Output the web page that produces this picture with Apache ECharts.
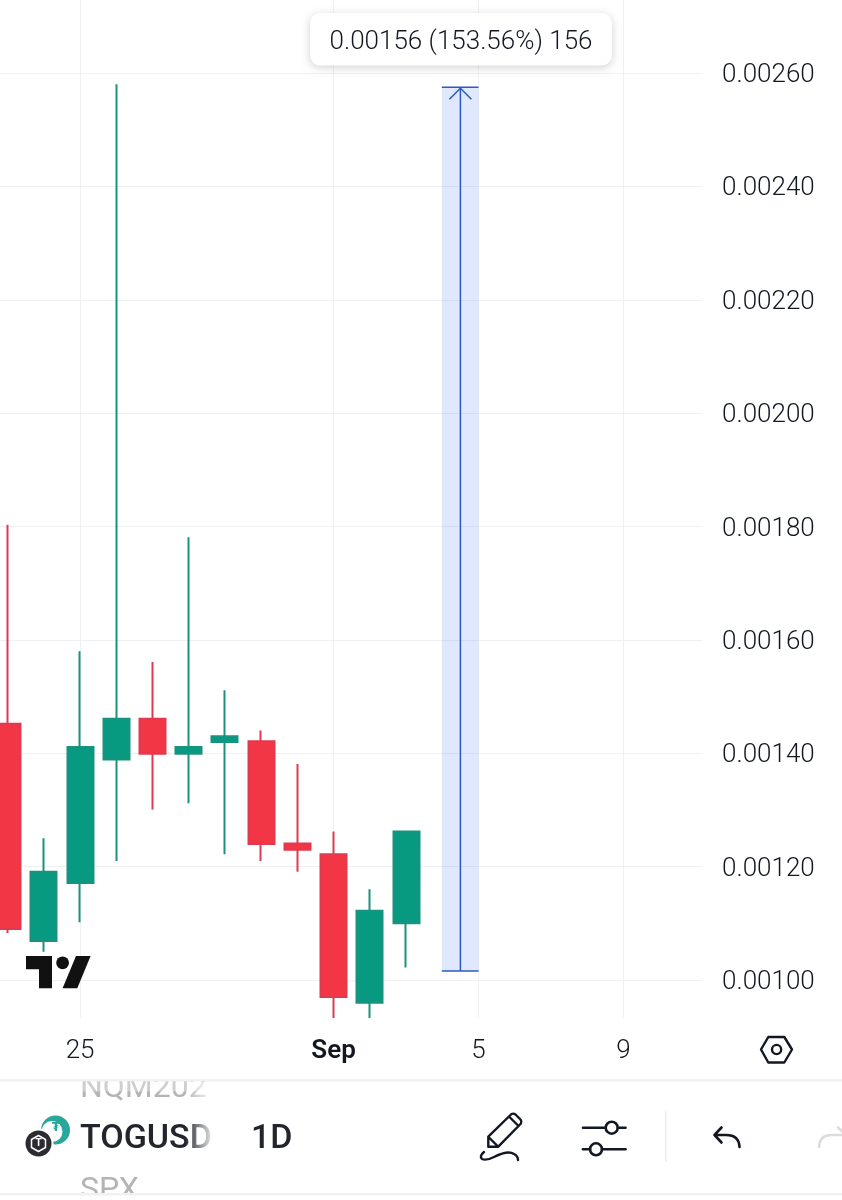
<!DOCTYPE html>
<html>
<head>
<meta charset="utf-8">
<title>TOGUSD 1D</title>
<style>
  html, body { margin: 0; padding: 0; background: #fff; }
  #chart { width: 842px; height: 1200px; }
</style>
<script src="https://cdn.jsdelivr.net/npm/echarts@6/dist/echarts.min.js"></script>
</head>
<body>
<div id="chart"></div>
<script>
// days counted on from August, so 32 is Sep 1
var days   = [23, 24, 25, 26, 27, 28, 29, 30, 31, 32, 33, 34];
var opens  = [0.001452, 0.001069, 0.001171, 0.001389, 0.001461, 0.001399, 0.00142, 0.001421, 0.001241, 0.001222, 0.00096, 0.0011];
var closes = [0.00109, 0.001191, 0.001411, 0.001461, 0.001399, 0.001411, 0.00143, 0.00124, 0.00123, 0.00097, 0.001122, 0.001262];
var lows   = [0.001083, 0.00105, 0.001102, 0.00121, 0.001301, 0.001312, 0.001222, 0.00121, 0.001191, 0.000933, 0.000933, 0.001022];
var highs  = [0.001803, 0.00125, 0.00158, 0.00258, 0.001561, 0.001781, 0.001511, 0.00144, 0.001381, 0.001262, 0.00116, 0.001262];

var priceTicks = [0.001, 0.0012, 0.0014, 0.0016, 0.0018, 0.002, 0.0022, 0.0024, 0.0026];
var dayTicks = [25, 32, 36, 40];
var dayLabels = { 25: "25", 32: "{b|Sep}", 36: "5", 40: "9" };

// price range tool: spans Sep 4 to Sep 5
var rangeDays = [35, 36];
var rangePrices = [0.001016, 0.002575];
var rangeText = "0.00156 (153.56%) 156";

var font = "Roboto";
var ink = "#131722";
var gridColor = "#eff0f3";
var up = "#089981";
var down = "#f23645";
var toolBlue = "#2a5bc0";

var candles = days.map(function (d, i) {
  return [d, opens[i], closes[i], lows[i], highs[i]];
});

function renderRange(params, api) {
  var lt = api.coord([rangeDays[0], rangePrices[1]]);
  var rb = api.coord([rangeDays[1], rangePrices[0]]);
  var cx = (lt[0] + rb[0]) / 2;
  var line = { stroke: toolBlue, lineWidth: 1.5, fill: null };
  return {
    type: "group",
    children: [
      { type: "rect", shape: { x: lt[0] - 0.5, y: lt[1], width: rb[0] - lt[0] + 0.5, height: rb[1] - lt[1] }, style: { fill: "rgba(41,98,255,0.15)" } },
      { type: "line", shape: { x1: lt[0] - 0.5, y1: lt[1], x2: rb[0], y2: lt[1] }, style: line },
      { type: "line", shape: { x1: lt[0] - 0.5, y1: rb[1], x2: rb[0], y2: rb[1] }, style: line },
      { type: "line", shape: { x1: cx, y1: lt[1], x2: cx, y2: rb[1] }, style: line },
      { type: "polyline", shape: { points: [[cx - 11, lt[1] + 12], [cx, lt[1] + 1], [cx + 11, lt[1] + 12]] }, style: line }
    ]
  };
}

function stroke(color, width) {
  return { stroke: color, lineWidth: width, fill: null, lineCap: "round", lineJoin: "round" };
}

// the graphic component has no plain svg path type, so register each icon as a shape
function icon(name, d, color, width) {
  echarts.graphic.registerShape(name, echarts.graphic.extendPath(d));
  return { type: name, z: 10, style: stroke(color, width) };
}

// TradingView mark, toolbar and the symbol strip under the chart
var chrome = [
  { type: "rect", z: 20, shape: { x: 310, y: 13, width: 302, height: 52.5, r: 10 }, style: { fill: "#fff", shadowBlur: 9, shadowOffsetY: 2, shadowColor: "rgba(0,0,0,0.18)" } },
  { type: "text", z: 21, x: 461, y: 42, style: { text: rangeText, font: "300 26px " + font, fill: ink, align: "center", verticalAlign: "middle" } },

  { type: "polygon", z: 10, shape: { points: [[26, 956], [52, 956], [52, 988.3], [39, 988.3], [39, 969.3], [26, 969.3]] }, style: { fill: "#111" } },
  { type: "circle", z: 10, shape: { cx: 62.6, cy: 962.8, r: 6.4 }, style: { fill: "#111" } },
  { type: "polygon", z: 10, shape: { points: [[76, 956], [90.6, 956], [77.3, 988.3], [62.6, 988.3]] }, style: { fill: "#111" } },

  icon("hexIcon", "M761 1049.5 L768.3 1037 H784.3 L792 1049.5 L784.3 1062.5 H768.3 Z", "#131722", 2.4),
  { type: "circle", z: 10, shape: { cx: 776.6, cy: 1049.5, r: 4.6 }, style: stroke("#131722", 2.4) },

  { type: "text", x: 80, y: 1105, style: { text: "NQM202", font: "400 32px " + font, fill: "#b4b4b4", verticalAlign: "bottom" } },
  { type: "text", x: 80, y: 1156, style: { text: "TOGUSD", font: "500 34px " + font, fill: "#22252b", verticalAlign: "bottom" } },
  { type: "text", x: 80, y: 1207, style: { text: "SPX", font: "400 32px " + font, fill: "#b4b4b4", verticalAlign: "bottom" } },
  { type: "text", x: 251, y: 1156, style: { text: "1D", font: "500 34px " + font, fill: "#22252b", verticalAlign: "bottom" } },
  // fades the clipped symbol names
  { type: "rect", z: 6, shape: { x: 185, y: 1082, width: 36, height: 112 }, style: { fill: { type: "linear", x: 0, y: 0, x2: 1, y2: 0, colorStops: [{ offset: 0, color: "rgba(255,255,255,0)" }, { offset: 0.85, color: "#fff" }, { offset: 1, color: "#fff" }] } } },
  { type: "rect", z: 6, shape: { x: 70, y: 1081.5, width: 160, height: 10 }, style: { fill: "rgba(255,255,255,0.35)" } },
  { type: "rect", z: 7, shape: { x: 70, y: 1066, width: 160, height: 15 }, style: { fill: "#fff" } },
  { type: "rect", z: 7, shape: { x: 0, y: 1193, width: 842, height: 7 }, style: { fill: "#fff" } },
  { type: "rect", z: 8, shape: { x: 0, y: 1079, width: 842, height: 2.5 }, style: { fill: "#f1f1f1" } },
  { type: "rect", z: 8, shape: { x: 0, y: 1193, width: 842, height: 2.5 }, style: { fill: "#f1f1f1" } },

  { type: "circle", z: 10, shape: { cx: 55.5, cy: 1130, r: 14.5 }, style: { fill: "#2aa79b" } },
  { type: "circle", z: 11, shape: { cx: 52, cy: 1131.5, r: 10.5 }, style: { fill: "#fff" } },
  { type: "text", z: 12, x: 56, y: 1128, style: { text: "₮", font: "700 12px 'DejaVu Sans'", fill: "#2aa79b", align: "center", verticalAlign: "middle" } },
  { type: "circle", z: 13, shape: { cx: 38.5, cy: 1143.5, r: 15 }, style: { fill: "#fff" } },
  { type: "circle", z: 14, shape: { cx: 38.5, cy: 1143.5, r: 13 }, style: { fill: "#2c2c30" } },
  Object.assign(icon("logoHex", "M38.5 1135.5 L45.5 1139.5 V1147.5 L38.5 1151.5 L31.5 1147.5 V1139.5 Z", "#fff", 1.5), { z: 15 }),
  { type: "text", z: 15, x: 38.5, y: 1143.5, style: { text: "T", font: "700 10px " + font, fill: "#fff", align: "center", verticalAlign: "middle" } },

  // pencil
  icon("pencilBody", "M488.3 1146.7 V1136.7 L511.5 1114 Q513.5 1113 515.5 1114.5 L520.5 1119.5 Q522 1121.5 521 1123.5 L498.3 1146.7 Z M488.5 1137 L498 1146.5 M509 1116.5 L518.5 1126", "#131722", 2.4),
  icon("pencilLine", "M484 1152 Q479 1156 482 1159 Q486 1161 494 1157 Q508 1150 514 1154 Q518 1156 518 1160", "#131722", 2.4),

  // settings sliders
  { type: "line", z: 10, shape: { x1: 583, y1: 1127.7, x2: 605, y2: 1127.7 }, style: stroke("#131722", 2.6) },
  { type: "line", z: 10, shape: { x1: 618, y1: 1127.7, x2: 625.5, y2: 1127.7 }, style: stroke("#131722", 2.6) },
  { type: "circle", z: 10, shape: { cx: 611.7, cy: 1127.7, r: 6 }, style: stroke("#131722", 2.6) },
  { type: "line", z: 10, shape: { x1: 583, y1: 1149.3, x2: 590, y2: 1149.3 }, style: stroke("#131722", 2.6) },
  { type: "line", z: 10, shape: { x1: 602, y1: 1149.3, x2: 625.5, y2: 1149.3 }, style: stroke("#131722", 2.6) },
  { type: "circle", z: 10, shape: { cx: 596, cy: 1149.3, r: 6 }, style: stroke("#131722", 2.6) },

  { type: "rect", z: 10, shape: { x: 665, y: 1111, width: 1.6, height: 51 }, style: { fill: "#ececec" } },

  // undo, redo
  icon("undoIcon", "M721.5 1127.5 L714.5 1135 L721.5 1142.5 M714.5 1135 H726 Q739 1135 739.5 1147", "#131722", 2.6),
  icon("redoIcon", "M819 1147 Q819.5 1135 832 1135 H846 M838 1127.5 L846 1135", "#dcdcdc", 2.6)
];

var chart = echarts.init(document.getElementById("chart"));

var option = {
  animation: false,
  backgroundColor: "#fff",
  grid: { left: 0, right: 140, top: 0, bottom: 182 },
  xAxis: {
    type: "value",
    min: 22.79,
    max: 42.17,
    axisLine: { show: false },
    axisTick: { show: false, customValues: dayTicks },
    splitLine: { show: true, lineStyle: { color: gridColor, width: 1 } },
    axisLabel: {
      customValues: dayTicks,
      margin: 20,
      color: ink,
      fontFamily: font,
      fontWeight: 300,
      fontSize: 26,
      formatter: function (v) { return dayLabels[v]; },
      rich: { b: { fontFamily: font, fontWeight: 600, fontSize: 26, color: ink } }
    }
  },
  yAxis: {
    type: "value",
    position: "right",
    min: 0.000933,
    max: 0.0027288,
    axisLine: { show: false },
    axisTick: { show: false, customValues: priceTicks },
    splitLine: { show: true, lineStyle: { color: gridColor, width: 1 } },
    axisLabel: {
      customValues: priceTicks,
      margin: 20,
      color: ink,
      fontFamily: font,
      fontWeight: 300,
      fontSize: 26,
      formatter: function (v) { return "{p|" + v.toFixed(5) + "}"; },
      rich: { p: { fontFamily: font, fontWeight: 300, fontSize: 26, color: ink, padding: [5, 0, 0, 0] } }
    }
  },
  series: [
    {
      type: "custom",
      z: 3,
      renderItem: renderRange,
      data: [[rangeDays[0], rangePrices[1]]],
      encode: { x: 0, y: 1 },
      silent: true
    },
    {
      type: "candlestick",
      z: 4,
      barWidth: 26.5,
      data: candles,
      encode: { x: 0, y: [1, 2, 3, 4] },
      itemStyle: {
        color: up,
        color0: down,
        borderColor: "#1a927f",
        borderColor0: "#de3a50",
        borderWidth: 2
      }
    }
  ],
  graphic: { elements: chrome }
};

chart.setOption(option);
</script>
</body>
</html>
